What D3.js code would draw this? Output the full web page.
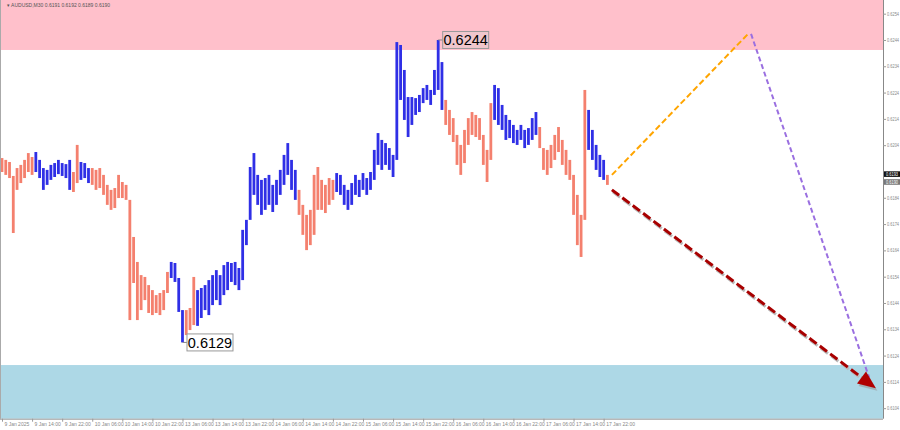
<!DOCTYPE html>
<html><head><meta charset="utf-8">
<script src="https://cdn.jsdelivr.net/npm/d3@7"></script>
<style>body{margin:0;background:#fff;}svg{display:block;}</style>
</head><body>
<svg id="chart" width="900" height="430"></svg>
<script>
// ---------- DATA ----------
const symbolTitle = "AUDUSD,M30  0.6191 0.6192 0.6189 0.6190";
const barHigh = [0.61991,0.61984,0.61976,0.61923,0.61953,0.61965,0.61984,0.62010,0.61995,0.62014,
0.61984,0.61953,0.61946,0.61965,0.61972,0.61984,0.61972,0.61968,0.61984,0.61938,
0.62041,0.61976,0.61972,0.61953,0.61953,0.61946,0.61953,0.61927,0.61889,0.61870,
0.61877,0.61927,0.61900,0.61889,0.61832,0.61691,0.61596,0.61546,0.61539,0.61508,
0.61489,0.61470,0.61478,0.61489,0.61558,0.61596,0.61592,0.61535,0.61413,0.61413,
0.61421,0.61539,0.61489,0.61497,0.61508,0.61527,0.61546,0.61565,0.61546,0.61584,
0.61596,0.61592,0.61596,0.61573,0.61718,0.61756,0.61957,0.62010,0.61927,0.61908,
0.61915,0.61927,0.61889,0.61908,0.61946,0.62003,0.62048,0.61984,0.61946,0.61870,
0.61813,0.61775,0.61794,0.61927,0.61957,0.61908,0.61889,0.61915,0.61908,0.61934,
0.61927,0.61889,0.61870,0.61896,0.61927,0.61908,0.61934,0.61915,0.61938,0.62022,
0.62086,0.62060,0.62048,0.62029,0.62003,0.62432,0.62421,0.62326,0.62223,0.62223,
0.62219,0.62231,0.62257,0.62269,0.62250,0.62326,0.62440,0.62356,0.62212,0.62174,
0.62143,0.62079,0.62041,0.62098,0.62143,0.62166,0.62155,0.62143,0.62079,0.62022,
0.62200,0.62269,0.62257,0.62193,0.62155,0.62136,0.62117,0.62098,0.62117,0.62098,
0.62105,0.62143,0.62166,0.62109,0.62029,0.62022,0.62041,0.62079,0.62109,0.62060,
0.62022,0.61984,0.61927,0.61851,0.61775,0.62250,0.62174,0.62098,0.62041,0.62003,
0.61984,0.61927];
const barLow = [0.61938,0.61927,0.61915,0.61706,0.61870,0.61896,0.61915,0.61938,0.61927,0.61938,
0.61915,0.61870,0.61889,0.61908,0.61919,0.61930,0.61923,0.61915,0.61870,0.61862,
0.61896,0.61908,0.61915,0.61896,0.61889,0.61870,0.61877,0.61851,0.61813,0.61794,
0.61801,0.61839,0.61839,0.61832,0.61375,0.61516,0.61375,0.61413,0.61451,0.61402,
0.61394,0.61402,0.61394,0.61413,0.61478,0.61535,0.61520,0.61406,0.61290,0.61318,
0.61337,0.61356,0.61353,0.61383,0.61413,0.61394,0.61432,0.61451,0.61432,0.61470,
0.61489,0.61520,0.61508,0.61489,0.61527,0.61660,0.61756,0.61851,0.61813,0.61775,
0.61794,0.61813,0.61786,0.61813,0.61851,0.61889,0.61927,0.61870,0.61832,0.61775,
0.61699,0.61641,0.61660,0.61699,0.61794,0.61794,0.61782,0.61813,0.61832,0.61862,
0.61851,0.61813,0.61794,0.61813,0.61851,0.61843,0.61870,0.61851,0.61870,0.61908,
0.61965,0.61946,0.61965,0.61946,0.61919,0.61984,0.62212,0.62136,0.62071,0.62117,
0.62155,0.62166,0.62200,0.62212,0.62193,0.62231,0.62250,0.62174,0.62117,0.62079,
0.62052,0.61965,0.61927,0.61972,0.62041,0.62079,0.62071,0.62060,0.61965,0.61900,
0.61984,0.62136,0.62117,0.62098,0.62060,0.62067,0.62048,0.62041,0.62060,0.62029,
0.62041,0.62060,0.62079,0.62029,0.61946,0.61927,0.61953,0.61984,0.62014,0.61965,
0.61927,0.61908,0.61775,0.61660,0.61615,0.61756,0.62022,0.61984,0.61946,0.61919,
0.61908,0.61889];
// u = bullish (blue), d = bearish (salmon)
const barDirection = ("ddddd dddd uuuuu uuuuu dd uuu ddddd ddddd ddddd ddddd d uuuu ddd " +
  "uuuuu uuuuu uuuuu uuuuu uuuuu uu ddddd ddddd uuuuu uuuuu uuuuu uuuuu uuuuu uuuu " +
  "ddddd ddddd ddd uuuuu uuuuu uu ddddd ddddd ddd uuuuu d").replace(/ /g, "").split("");
const priceTicks = [0.6104,0.6114,0.6124,0.6134,0.6144,0.6154,0.6164,0.6174,0.6184,0.6204,0.6214,0.6224,0.6234,0.6244,0.6254];
const timeTickBars = [0,8,16,24,32,40,48,56,64,72,80,88,96,104,112,120,128,136,144,152,160];
const timeTickLabels = ["9 Jan 2025","9 Jan 14:00","9 Jan 22:00","10 Jan 06:00","10 Jan 14:00","10 Jan 22:00",
  "13 Jan 06:00","13 Jan 14:00","13 Jan 22:00","14 Jan 06:00","14 Jan 14:00","14 Jan 22:00",
  "15 Jan 06:00","15 Jan 14:00","15 Jan 22:00","16 Jan 06:00","16 Jan 14:00","16 Jan 22:00",
  "17 Jan 06:00","17 Jan 14:00","17 Jan 22:00"];
const resistanceZone = [0.62402, 0.62592];
const supportZone = [0.61000, 0.61204];
const extremeLabels = [{bar:116, price:0.6244, text:"0.6244", fill:"#f0c6cc"},
                       {bar:48, price:0.6129, text:"0.6129", fill:"#ffffff"}];
const forecastOrange = [{bar:162.2, price:0.61927},{bar:198.4, price:0.62463}];
const forecastPurple = [{bar:199.2, price:0.62463},{bar:230.6, price:0.61157}];
const forecastRed = [{bar:162.2, price:0.61870},{bar:232.4, price:0.61116}];
const currentPrices = [{price:0.6193, text:"0.6193", fill:"#111"},{price:0.6190, text:"0.6190", fill:"#777"}];

// ---------- CHART ----------
const svg = d3.select("#chart");
const plotRight = 883, plotBottom = 418.7;
const x = d3.scaleLinear().domain([0, 161]).range([2, 607.4]);
const y = d3.scaleLinear().domain([0.6100, 0.62592]).range([plotBottom, 0]);
const font = "'Liberation Sans', Arial, sans-serif";

svg.append("rect").attr("x",0).attr("y",0).attr("width",900).attr("height",430).attr("fill","#fff");

// zones
[[resistanceZone,"#FFC0CB"],[supportZone,"#ADD8E6"]].forEach(([z,c]) => {
  svg.append("rect").attr("x",0).attr("width",plotRight)
    .attr("y", y(z[1])).attr("height", y(z[0]) - y(z[1])).attr("fill", c);
});

svg.append("text").attr("x",7).attr("y",7).attr("font-family",font).attr("font-size",5)
  .attr("fill","#555").text("\u25BE " + symbolTitle);

// bars
const bars = barHigh.map((h,i) => ({i, h, l: barLow[i], dir: barDirection[i]}));
svg.append("g").selectAll("rect").data(bars).join("rect")
  .attr("x", d => x(d.i) - 1.4).attr("width", 2.8)
  .attr("y", d => y(d.h)).attr("height", d => Math.max(1, y(d.l) - y(d.h)))
  .attr("fill", d => d.dir === "u" ? "#2f2fe6" : "#f4806e");

// forecast lines
const line = d3.line().x(d => x(d.bar)).y(d => y(d.price));
svg.append("path").datum(forecastOrange).attr("d", line).attr("fill","none")
  .attr("stroke","#FFA500").attr("stroke-width",2).attr("stroke-dasharray","6,3");
svg.append("path").datum(forecastPurple).attr("d", line).attr("fill","none")
  .attr("stroke","#9a6fe0").attr("stroke-width",2).attr("stroke-dasharray","5,3");

// red arrow with shadow
const r0 = forecastRed[0], r1 = forecastRed[1];
const x0 = x(r0.bar), y0 = y(r0.price), x1 = x(r1.bar), y1 = y(r1.price);
const len = Math.hypot(x1-x0, y1-y0), ux = (x1-x0)/len, uy = (y1-y0)/len;
const headLen = 18, headW = 7.5;
const bx = x1 - ux*headLen, by = y1 - uy*headLen;
svg.append("line").attr("x1",x0+1).attr("y1",y0+2).attr("x2",bx+1).attr("y2",by+2)
  .attr("stroke","#bbb").attr("stroke-width",3).attr("stroke-dasharray","9,4");
svg.append("line").attr("x1",x0).attr("y1",y0).attr("x2",bx).attr("y2",by)
  .attr("stroke","#a80000").attr("stroke-width",3).attr("stroke-dasharray","9,4");
const head = (ox, oy) => [[x1+ox, y1+oy],[bx - uy*headW + ox, by + ux*headW + oy],[bx + uy*headW + ox, by - ux*headW + oy]]
  .map(p => p.join(",")).join(" ");
svg.append("polygon").attr("points", head(1.5,2.5)).attr("fill","#999").attr("opacity",0.6);
svg.append("polygon").attr("points", head(0,0)).attr("fill","#b00000");

// extreme labels
extremeLabels.forEach(a => {
  const bx0 = x(a.bar) + 4.5, cy = y(a.price);
  svg.append("line").attr("x1", x(a.bar)).attr("x2", bx0).attr("y1", cy).attr("y2", cy)
    .attr("stroke","#888").attr("stroke-width",1);
  svg.append("rect").attr("x", bx0).attr("y", cy - 8.5).attr("width", 46).attr("height", 17)
    .attr("fill", a.fill).attr("stroke","#999").attr("stroke-width",1);
  svg.append("text").attr("x", bx0 + 23).attr("y", cy + 5.2).attr("text-anchor","middle")
    .attr("font-family", font).attr("font-size", 14.5).attr("fill","#000").text(a.text);
});

// frame
svg.append("line").attr("x1",0.5).attr("x2",0.5).attr("y1",0).attr("y2",plotBottom).attr("stroke","#aaa");

// right axis
const yAxis = d3.axisRight(y).tickValues(priceTicks).tickSize(3).tickFormat(d3.format(".4f"));
const ga = svg.append("g").attr("transform", `translate(${plotRight},0)`).call(yAxis);
ga.select(".domain").attr("stroke","#888").attr("d", `M0.5,0V${plotBottom}`);
ga.selectAll(".tick line").attr("stroke","#999");
ga.selectAll(".tick text").attr("font-family",font).attr("font-size",4.6).attr("fill","#888").attr("x",4)
  .attr("textLength",12).attr("lengthAdjust","spacingAndGlyphs");

// bottom axis
const xAxis = d3.axisBottom(x).tickValues(timeTickBars).tickSize(3)
  .tickFormat((d,i) => timeTickLabels[i]);
const gb = svg.append("g").attr("transform", `translate(0,${plotBottom})`).call(xAxis);
gb.select(".domain").attr("stroke","#999").attr("d", `M0,0.5H${plotRight}`);
gb.selectAll(".tick line").attr("stroke","#999");
gb.selectAll(".tick text").attr("font-family",font).attr("font-size",5).attr("fill","#888")
  .attr("text-anchor","start").attr("x",2).attr("y",4);

// current price boxes
currentPrices.forEach(c => {
  const cy = y(c.price);
  svg.append("rect").attr("x", plotRight+1).attr("y", cy-2.8).attr("width",16).attr("height",5.6).attr("fill",c.fill);
  svg.append("text").attr("x", plotRight+3).attr("y", cy+1.7).attr("font-family",font).attr("font-size",4.6)
    .attr("fill","#fff").attr("textLength",12).attr("lengthAdjust","spacingAndGlyphs").text(c.text);
});
</script>
</body></html>
